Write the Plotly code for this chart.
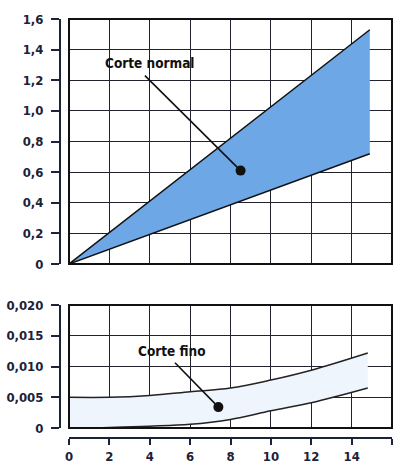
import plotly.graph_objects as go

# ---- data ----
x_ticks = [0, 2, 4, 6, 8, 10, 12, 14, 16]
x_ticklabels = ["0", "2", "4", "6", "8", "10", "12", "14", "16"]

top_yticks = [0, 0.2, 0.4, 0.6, 0.8, 1.0, 1.2, 1.4, 1.6]
top_yticklabels = ["0", "0,2", "0,4", "0,6", "0,8", "1,0", "1,2", "1,4", "1,6"]

bot_yticks = [0, 0.005, 0.010, 0.015, 0.020]
bot_yticklabels = ["0", "0,005", "0,010", "0,015", "0,020"]

normal_x = [0, 14.9]
normal_upper = [0, 1.53]
normal_lower = [0, 0.72]

fino_x = [0, 2, 4, 6, 8, 10, 12, 14.8]
fino_upper = [0.0050, 0.0050, 0.0053, 0.0059, 0.0065, 0.0078, 0.0094, 0.0122]
fino_lower = [0.0000, 0.0001, 0.0003, 0.0006, 0.0014, 0.0028, 0.0041, 0.0065]

normal_label = "Corte normal"
normal_point = (8.5, 0.61)
normal_text_pos = (4.0, 1.31)
normal_leader_start = (3.76, 1.23)

fino_label = "Corte fino"
fino_point = (7.4, 0.0034)
fino_text_pos = (5.1, 0.0125)
fino_leader_start = (5.25, 0.0106)

# ---- styling ----
W, H = 397, 464
FONT = "DejaVu Sans Condensed, Liberation Sans Narrow, sans-serif"
TXT = "#1c2238"
GRID = "#22222e"
px = lambda v: v / W
py = lambda v: (H - v) / H

fig = go.Figure()

fig.add_trace(go.Scatter(x=normal_x, y=normal_lower, mode="lines",
                         line=dict(color="#111", width=1.5),
                         xaxis="x", yaxis="y", hoverinfo="skip", showlegend=False))
fig.add_trace(go.Scatter(x=normal_x, y=normal_upper, mode="lines",
                         line=dict(color="#111", width=1.5),
                         fill="tonexty", fillcolor="#6ea7e6",
                         xaxis="x", yaxis="y", hoverinfo="skip", showlegend=False))
# leader line top
fig.add_trace(go.Scatter(x=[normal_leader_start[0], normal_point[0]],
                         y=[normal_leader_start[1], normal_point[1]], mode="lines",
                         line=dict(color="#111", width=1.6),
                         xaxis="x", yaxis="y", hoverinfo="skip", showlegend=False))
fig.add_trace(go.Scatter(x=[normal_point[0]], y=[normal_point[1]], mode="markers",
                         marker=dict(color="#111", size=10),
                         xaxis="x", yaxis="y", hoverinfo="skip", showlegend=False))

fig.add_trace(go.Scatter(x=fino_x, y=fino_lower, mode="lines",
                         line=dict(color="#222", width=1.5, shape="spline"),
                         xaxis="x2", yaxis="y2", hoverinfo="skip", showlegend=False))
fig.add_trace(go.Scatter(x=fino_x, y=fino_upper, mode="lines",
                         line=dict(color="#222", width=1.5, shape="spline"),
                         fill="tonexty", fillcolor="#eef5fc",
                         xaxis="x2", yaxis="y2", hoverinfo="skip", showlegend=False))
fig.add_trace(go.Scatter(x=[fino_leader_start[0], fino_point[0]],
                         y=[fino_leader_start[1], fino_point[1]], mode="lines",
                         line=dict(color="#111", width=1.6),
                         xaxis="x2", yaxis="y2", hoverinfo="skip", showlegend=False))
fig.add_trace(go.Scatter(x=[fino_point[0]], y=[fino_point[1]], mode="markers",
                         marker=dict(color="#111", size=10),
                         xaxis="x2", yaxis="y2", hoverinfo="skip", showlegend=False))

xdom = [px(69), px(392)]
top_dom = [py(264), py(19)]
bot_dom = [py(428), py(305)]

common_grid = dict(showgrid=True, gridcolor=GRID, gridwidth=1.4, zeroline=False, automargin=False)
tickfont = dict(family=FONT, size=13, color=TXT, weight="bold")
labfont = dict(family=FONT, size=13.5, color="#111", weight="bold")

yax_common = dict(anchor="free", position=px(60), showline=True, linecolor="#1c2238", linewidth=2,
                  ticks="outside", ticklen=8, tickwidth=2, tickcolor="#1c2238",
                  ticklabelstandoff=5, tickfont=tickfont)

fig.update_layout(
    width=W, height=H,
    margin=dict(l=0, r=0, t=0, b=0, pad=0, autoexpand=False),
    paper_bgcolor="white", plot_bgcolor="white",
    xaxis=dict(domain=xdom, range=[0, 16], tickvals=x_ticks, showticklabels=False,
               ticks="", anchor="y", **common_grid),
    yaxis=dict(domain=top_dom, range=[0, 1.6], tickvals=top_yticks, ticktext=top_yticklabels,
               **yax_common, **common_grid),
    xaxis2=dict(domain=xdom, range=[0, 16], tickvals=x_ticks, ticktext=x_ticklabels,
                anchor="free", position=py(438), showline=True, linecolor="#1c2238", linewidth=2,
                ticks="outside", ticklen=6, tickwidth=2, tickcolor="#1c2238",
                tickfont=tickfont, **common_grid),
    yaxis2=dict(domain=bot_dom, range=[0, 0.020], tickvals=bot_yticks, ticktext=bot_yticklabels,
                **yax_common, **common_grid),
    annotations=[
        dict(x=normal_text_pos[0], y=normal_text_pos[1], xref="x", yref="y",
             text=normal_label, showarrow=False, font=labfont),
        dict(x=fino_text_pos[0], y=fino_text_pos[1], xref="x2", yref="y2",
             text=fino_label, showarrow=False, font=labfont),
    ],
    shapes=[
        dict(type="rect", xref="x domain", yref="y domain", x0=0, x1=1, y0=0, y1=1,
             line=dict(color="#111", width=2), layer="above"),
        dict(type="rect", xref="x2 domain", yref="y2 domain", x0=0, x1=1, y0=0, y1=1,
             line=dict(color="#111", width=2), layer="above"),
    ],
)

fig.write_html("out.html", config={"displayModeBar": False},
               post_script="document.body.style.margin='0';")
